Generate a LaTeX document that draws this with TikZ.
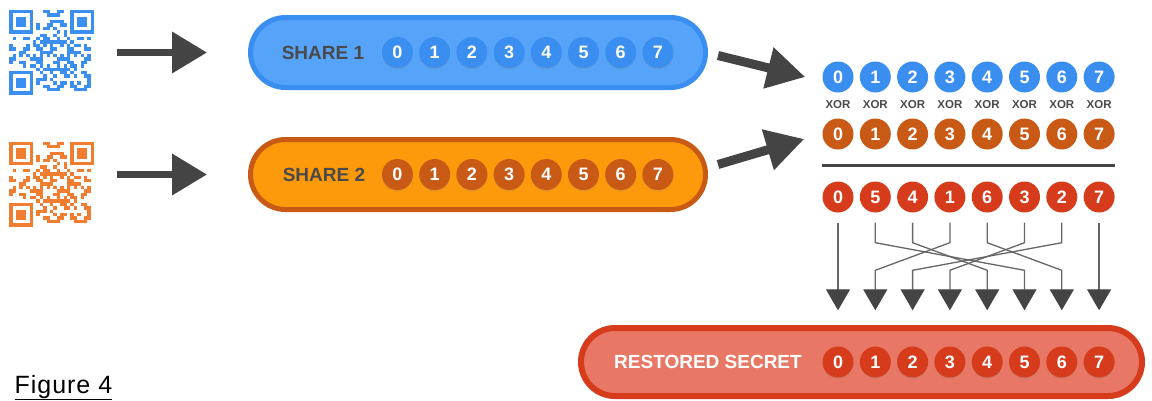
\documentclass[tikz,border=0pt]{standalone}
\usepackage{fontspec}
\setmainfont{Liberation Sans}
\usetikzlibrary{arrows.meta,shapes.misc,shadows}

\definecolor{qrblue}{HTML}{3B8FF0}
\definecolor{qrorange}{HTML}{F07D30}
\definecolor{bluefill}{HTML}{55A4F9}
\definecolor{blueline}{HTML}{3A8EF0}
\definecolor{orangefill}{HTML}{FD9A0C}
\definecolor{orangeline}{HTML}{C95A16}
\definecolor{redcirc}{HTML}{D63B1C}
\definecolor{redfill}{HTML}{E87865}
\definecolor{textgray}{HTML}{4A4A4A}
\definecolor{arrowgray}{HTML}{444444}
\definecolor{wiregray}{HTML}{666666}

% 25x25 modules, drawn from the top left corner
\tikzset{
pics/qrcode/.style={code={
\def\m{3.4}
\foreach \r in {0,...,24}{
\foreach \c in {0,...,24}{
\pgfmathtruncatemacro{\fz}{(\r<8 && \c<8) || (\r<8 && \c>16) || (\r>16 && \c<8)}
\pgfmathtruncatemacro{\on}{mod(int(\r/2)*5+int(\c/2)*3+\r*\c*7+\c,11)<5}
\ifnum\fz=0 \ifnum\on=1
\fill (\c*\m,\r*\m) rectangle ++(\m,\m);
\fi\fi
}
}
\foreach \fx/\fy in {0/0,18/0,0/18}{
\fill (\fx*\m,\fy*\m) rectangle ++(7*\m,7*\m);
\fill[white] (\fx*\m+\m,\fy*\m+\m) rectangle ++(5*\m,5*\m);
\fill (\fx*\m+2*\m,\fy*\m+2*\m) rectangle ++(3*\m,3*\m);
}
}}
}

\begin{document}
\begin{tikzpicture}[
x=1pt, y=-1pt,
qrbox/.style={minimum size=85pt, inner sep=0pt},
pill/.style={rounded rectangle, inner sep=0pt, line width=5pt},
digit/.style={circle, inner sep=0pt, minimum size=31pt, text=white,
font=\fontsize{18}{18}\selectfont\bfseries},
shadowed/.style={drop shadow={opacity=0.2, shadow xshift=0pt, shadow yshift=-1.5pt}},
sharetext/.style={font=\fontsize{19}{19}\selectfont\bfseries, text=textgray},
xortext/.style={font=\fontsize{11.5}{11.5}\selectfont\bfseries, text=textgray},
bigarrow/.style={-{Triangle[length=35pt,width=40pt]}, line width=7pt, draw=arrowgray},
diagarrow/.style={-{Triangle[length=38pt,width=40pt]}, line width=9pt, draw=arrowgray},
permline/.style={-{Triangle[length=21pt,width=24pt,color=arrowgray]}, line width=1.3pt, draw=wiregray},
sumrule/.style={line width=3pt, draw=arrowgray}
]
\useasboundingbox (0,0) rectangle (1152,400);

% the two shares
\node[qrbox] (qr1) at (51.8,52.5) {};
\pic[qrblue] at (qr1.north west) {qrcode};
\node[qrbox] (qr2) at (51.8,184.2) {};
\pic[qrorange] at (qr2.north west) {qrcode};

\node[pill, draw=blueline, fill=bluefill, minimum width=455pt, minimum height=70pt] (share1) at (478,52.5) {};
\node[sharetext] (name1) at (323,52.5) {SHARE 1};
\node[pill, draw=orangeline, fill=orangefill, minimum width=455pt, minimum height=70pt] (share2) at (478,174.5) {};
\node[sharetext] (name2) at (324,174.5) {SHARE 2};
\foreach \k in {0,...,7}{
\node[digit, fill=blueline, shadowed] (a\k) at (397.5+37.2*\k,52.5) {\k};
\node[digit, fill=orangeline, shadowed] (b\k) at (397.5+37.2*\k,174.5) {\k};
}

\draw[bigarrow, shorten <=22pt, shorten >=41pt] (qr1.east) -- (share1.west);
\draw[bigarrow, shorten <=22pt, shorten >=41pt] (qr2.east |- share2.west) -- (share2.west);

% xor of the shares
\foreach \k in {0,...,7}{
\node[digit, fill=blueline] (x\k) at (838+37.3*\k,77) {\k};
\node[xortext] (xor\k) at (838+37.3*\k,105) {XOR};
\node[digit, fill=orangeline] (o\k) at (838+37.3*\k,134) {\k};
}
\draw[sumrule] ([yshift=-31pt]o0.west) -- ([yshift=-31pt]o7.east);
\foreach \k/\v in {0/0,1/5,2/4,3/1,4/6,5/3,6/2,7/7}
\node[digit, fill=redcirc] (r\k) at (838+37.3*\k,197) {\v};

\draw[diagarrow] ([xshift=10pt,yshift=-3pt]share1.east) -- ([xshift=-17pt]x0.west);
\draw[diagarrow] ([xshift=10pt,yshift=10pt]share2.east) -- ([xshift=-18pt,yshift=-5pt]o0.west);

% restored secret
\node[pill, line width=6pt, draw=redcirc, fill=redfill, minimum width=561pt, minimum height=68pt] (secret) at (861.5,362) {};
\node[sharetext, text=white] (name3) at (708,362) {RESTORED SECRET};
\foreach \k in {0,...,7}
\node[digit, fill=redcirc, shadowed] (d\k) at (838+37.3*\k,362) {\k};

\foreach \i/\v in {0/0,1/5,2/4,3/1,4/6,5/3,6/2,7/7}
\draw[permline] ([yshift=-10pt]r\i.south) -- ++(0,20) -- ([yshift=76pt]d\v.north) -- ([yshift=36pt]d\v.north);

\node[anchor=base west, font=\fontsize{25}{25}\selectfont\addfontfeature{LetterSpace=4}] (caption) at (11,393) {\underline{Figure 4}};
\end{tikzpicture}
\end{document}
